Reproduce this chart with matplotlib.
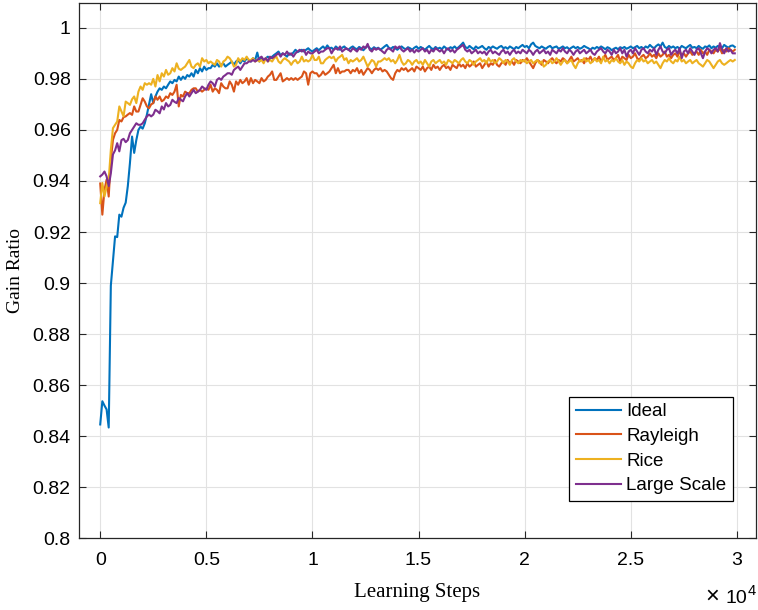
import matplotlib
matplotlib.use("Agg")
import matplotlib.pyplot as plt
import numpy as np
from matplotlib.ticker import FixedLocator, FuncFormatter

plt.rcParams["font.family"] = ["Liberation Sans", "DejaVu Sans"]

# learning step at which each gain ratio was logged
steps = np.arange(0, 30000, 100)

ideal = [
    .8446, .8537, .8520, .8505, .8434, .8990, .9085, .9183, .9180, .9268,
    .9260, .9295, .9315, .9380, .9470, .9574, .9510, .9560, .9600, .9613,
    .9605, .9626, .9660, .9700, .9740, .9705, .9731, .9750, .9763, .9757,
    .9770, .9763, .9777, .9790, .9783, .9796, .9790, .9809, .9796, .9809,
    .9800, .9815, .9809, .9822, .9809, .9835, .9822, .9842, .9829, .9848,
    .9835, .9842, .9842, .9855, .9848, .9861, .9848, .9855, .9861, .9848,
    .9855, .9861, .9868, .9855, .9868, .9874, .9861, .9874, .9868, .9880,
    .9874, .9868, .9881, .9874, .9903, .9868, .9881, .9870, .9881, .9887,
    .9878, .9887, .9894, .9900, .9907, .9892, .9900, .9894, .9887, .9900,
    .9894, .9903, .9914, .9905, .9909, .9914, .9907, .9914, .9920, .9912,
    .9907, .9914, .9920, .9912, .9920, .9927, .9918, .9931, .9920, .9922,
    .9914, .9927, .9920, .9914, .9922, .9927, .9918, .9914, .9922, .9927,
    .9920, .9916, .9925, .9920, .9912, .9922, .9929, .9920, .9916, .9924,
    .9918, .9922, .9914, .9920, .9927, .9933, .9922, .9918, .9925, .9920,
    .9914, .9922, .9927, .9920, .9916, .9924, .9920, .9914, .9922, .9927,
    .9918, .9925, .9920, .9914, .9922, .9929, .9920, .9916, .9925, .9918,
    .9922, .9916, .9927, .9920, .9914, .9924, .9920, .9927, .9918, .9925,
    .9933, .9942, .9925, .9920, .9929, .9922, .9916, .9927, .9920, .9924,
    .9929, .9920, .9914, .9925, .9920, .9927, .9922, .9918, .9925, .9929,
    .9920, .9924, .9918, .9927, .9922, .9916, .9925, .9920, .9927, .9933,
    .9925, .9929, .9920, .9935, .9942, .9929, .9924, .9920, .9927, .9922,
    .9918, .9925, .9929, .9920, .9924, .9927, .9918, .9922, .9927, .9920,
    .9924, .9916, .9922, .9927, .9920, .9925, .9918, .9922, .9929, .9924,
    .9920, .9914, .9922, .9918, .9925, .9920, .9927, .9922, .9916, .9924,
    .9920, .9912, .9918, .9922, .9916, .9924, .9920, .9925, .9918, .9922,
    .9927, .9920, .9924, .9929, .9920, .9925, .9918, .9927, .9922, .9933,
    .9925, .9920, .9929, .9935, .9927, .9942, .9925, .9920, .9929, .9922,
    .9927, .9920, .9925, .9918, .9929, .9924, .9920, .9927, .9933, .9922,
    .9925, .9920, .9929, .9922, .9918, .9927, .9924, .9931, .9920, .9927,
    .9922, .9929, .9925, .9920, .9933, .9927, .9922, .9929, .9931, .9925,
]

rayleigh = [
    .9390, .9268, .9365, .9405, .9339, .9483, .9561, .9587, .9600, .9639,
    .9633, .9650, .9653, .9660, .9666, .9659, .9692, .9672, .9672, .9698,
    .9724, .9711, .9692, .9685, .9700, .9705, .9731, .9718, .9731, .9712,
    .9718, .9731, .9725, .9744, .9737, .9750, .9777, .9692, .9737, .9731,
    .9750, .9744, .9744, .9757, .9763, .9763, .9750, .9757, .9750, .9757,
    .9763, .9757, .9777, .9750, .9763, .9757, .9744, .9783, .9770, .9763,
    .9763, .9790, .9777, .9750, .9790, .9777, .9796, .9783, .9790, .9803,
    .9777, .9803, .9783, .9796, .9790, .9783, .9803, .9790, .9796, .9809,
    .9816, .9829, .9796, .9796, .9809, .9822, .9790, .9796, .9803, .9796,
    .9803, .9796, .9803, .9796, .9803, .9809, .9829, .9822, .9777, .9822,
    .9829, .9822, .9822, .9809, .9816, .9829, .9816, .9822, .9829, .9842,
    .9855, .9822, .9842, .9822, .9829, .9829, .9835, .9835, .9822, .9835,
    .9829, .9842, .9822, .9835, .9816, .9829, .9842, .9835, .9822, .9835,
    .9842, .9835, .9842, .9829, .9835, .9829, .9816, .9803, .9796, .9822,
    .9835, .9829, .9842, .9835, .9842, .9829, .9835, .9842, .9829, .9848,
    .9842, .9835, .9848, .9829, .9842, .9848, .9835, .9855, .9842, .9848,
    .9835, .9848, .9855, .9842, .9848, .9835, .9855, .9848, .9842, .9861,
    .9848, .9855, .9842, .9861, .9848, .9855, .9868, .9848, .9855, .9861,
    .9842, .9855, .9868, .9848, .9861, .9855, .9874, .9855, .9848, .9861,
    .9868, .9855, .9874, .9861, .9868, .9855, .9874, .9868, .9861, .9874,
    .9868, .9881, .9868, .9855, .9842, .9861, .9874, .9868, .9855, .9874,
    .9868, .9861, .9874, .9881, .9868, .9861, .9874, .9868, .9881, .9874,
    .9861, .9874, .9887, .9868, .9874, .9881, .9868, .9874, .9861, .9881,
    .9874, .9887, .9868, .9881, .9874, .9887, .9868, .9881, .9894, .9874,
    .9881, .9887, .9874, .9881, .9894, .9868, .9887, .9881, .9874, .9894,
    .9881, .9887, .9900, .9881, .9874, .9887, .9894, .9881, .9887, .9900,
    .9887, .9894, .9881, .9900, .9887, .9894, .9907, .9887, .9894, .9881,
    .9894, .9900, .9887, .9907, .9894, .9900, .9887, .9900, .9907, .9894,
    .9900, .9907, .9894, .9914, .9900, .9907, .9894, .9914, .9907, .9900,
    .9914, .9907, .9920, .9900, .9914, .9907, .9920, .9914, .9907, .9914,
]

rice = [
    .9313, .9392, .9339, .9378, .9405, .9522, .9607, .9620, .9633, .9692,
    .9672, .9653, .9711, .9705, .9698, .9720, .9731, .9705, .9750, .9770,
    .9757, .9783, .9777, .9783, .9777, .9800, .9770, .9815, .9790, .9822,
    .9809, .9835, .9816, .9822, .9842, .9829, .9861, .9840, .9835, .9842,
    .9848, .9861, .9874, .9848, .9842, .9855, .9861, .9848, .9881, .9868,
    .9874, .9861, .9868, .9861, .9855, .9874, .9868, .9848, .9868, .9874,
    .9887, .9881, .9868, .9848, .9855, .9881, .9868, .9881, .9874, .9887,
    .9874, .9874, .9881, .9868, .9874, .9868, .9874, .9861, .9881, .9868,
    .9874, .9868, .9881, .9887, .9868, .9861, .9874, .9881, .9874, .9868,
    .9855, .9868, .9874, .9861, .9868, .9887, .9868, .9874, .9868, .9874,
    .9894, .9874, .9874, .9887, .9861, .9861, .9874, .9881, .9887, .9881,
    .9887, .9868, .9881, .9887, .9894, .9874, .9881, .9861, .9874, .9868,
    .9874, .9881, .9868, .9874, .9887, .9868, .9848, .9861, .9874, .9868,
    .9848, .9868, .9868, .9874, .9881, .9874, .9881, .9868, .9874, .9861,
    .9874, .9894, .9868, .9855, .9861, .9874, .9868, .9855, .9868, .9874,
    .9861, .9868, .9855, .9874, .9861, .9848, .9868, .9874, .9861, .9868,
    .9874, .9861, .9868, .9855, .9874, .9868, .9861, .9874, .9868, .9861,
    .9874, .9881, .9868, .9861, .9874, .9868, .9855, .9868, .9874, .9881,
    .9868, .9874, .9861, .9881, .9868, .9874, .9861, .9868, .9881, .9874,
    .9861, .9874, .9868, .9855, .9874, .9881, .9868, .9861, .9874, .9868,
    .9874, .9861, .9868, .9874, .9861, .9868, .9874, .9861, .9868, .9848,
    .9855, .9868, .9874, .9861, .9868, .9881, .9868, .9855, .9868, .9874,
    .9861, .9868, .9874, .9855, .9842, .9861, .9874, .9868, .9881, .9868,
    .9874, .9861, .9868, .9881, .9868, .9874, .9861, .9887, .9868, .9874,
    .9861, .9874, .9868, .9881, .9868, .9861, .9874, .9855, .9868, .9861,
    .9848, .9842, .9861, .9874, .9868, .9881, .9868, .9874, .9861, .9868,
    .9874, .9861, .9868, .9855, .9842, .9861, .9874, .9868, .9881, .9868,
    .9861, .9874, .9868, .9887, .9868, .9874, .9861, .9868, .9874, .9861,
    .9868, .9874, .9861, .9855, .9848, .9861, .9874, .9868, .9855, .9842,
    .9855, .9868, .9874, .9861, .9855, .9861, .9868, .9874, .9868, .9874,
]

large_scale = [
    .9418, .9425, .9437, .9418, .9380, .9430, .9504, .9520, .9548, .9516,
    .9560, .9565, .9552, .9560, .9587, .9600, .9613, .9626, .9620, .9620,
    .9626, .9640, .9653, .9660, .9653, .9660, .9679, .9673, .9665, .9692,
    .9680, .9705, .9692, .9698, .9718, .9710, .9705, .9725, .9718, .9712,
    .9731, .9744, .9731, .9744, .9757, .9744, .9750, .9757, .9770, .9763,
    .9757, .9777, .9790, .9783, .9770, .9796, .9803, .9796, .9809, .9815,
    .9822, .9822, .9816, .9835, .9842, .9848, .9835, .9848, .9861, .9861,
    .9868, .9868, .9874, .9868, .9874, .9881, .9887, .9874, .9881, .9868,
    .9887, .9881, .9887, .9894, .9900, .9887, .9900, .9894, .9907, .9894,
    .9900, .9887, .9900, .9907, .9914, .9907, .9914, .9894, .9907, .9900,
    .9900, .9907, .9914, .9900, .9907, .9907, .9914, .9920, .9920, .9900,
    .9914, .9920, .9914, .9927, .9907, .9914, .9920, .9914, .9907, .9920,
    .9914, .9907, .9920, .9914, .9927, .9920, .9937, .9914, .9907, .9920,
    .9914, .9920, .9914, .9907, .9900, .9914, .9920, .9914, .9907, .9927,
    .9920, .9927, .9914, .9907, .9914, .9920, .9907, .9914, .9903, .9914,
    .9907, .9914, .9920, .9907, .9914, .9900, .9914, .9907, .9920, .9914,
    .9907, .9914, .9900, .9914, .9920, .9907, .9914, .9903, .9914, .9920,
    .9927, .9933, .9914, .9907, .9914, .9900, .9907, .9914, .9900, .9907,
    .9900, .9907, .9894, .9907, .9914, .9900, .9907, .9900, .9894, .9907,
    .9914, .9900, .9907, .9894, .9907, .9914, .9900, .9907, .9900, .9914,
    .9907, .9900, .9914, .9907, .9894, .9907, .9914, .9900, .9907, .9914,
    .9900, .9907, .9894, .9914, .9907, .9900, .9914, .9907, .9920, .9907,
    .9900, .9914, .9907, .9894, .9907, .9914, .9900, .9907, .9914, .9900,
    .9907, .9914, .9900, .9894, .9907, .9914, .9920, .9907, .9900, .9914,
    .9907, .9894, .9914, .9900, .9907, .9920, .9900, .9914, .9887, .9907,
    .9914, .9900, .9920, .9907, .9894, .9914, .9920, .9907, .9900, .9914,
    .9907, .9920, .9894, .9914, .9927, .9907, .9900, .9914, .9920, .9894,
    .9907, .9914, .9900, .9920, .9881, .9907, .9914, .9900, .9920, .9907,
    .9894, .9914, .9920, .9900, .9881, .9907, .9920, .9914, .9900, .9914,
    .9920, .9907, .9940, .9914, .9900, .9920, .9907, .9914, .9900, .9900,
]

series = [
    ("Ideal", ideal, "#0072BD"),
    ("Rayleigh", rayleigh, "#D95319"),
    ("Rice", rice, "#EDB120"),
    ("Large Scale", large_scale, "#7E2F8E"),
]

x_ticks = [0, 5000, 10000, 15000, 20000, 25000, 30000]
y_ticks = [0.8, 0.82, 0.84, 0.86, 0.88, 0.9, 0.92, 0.94, 0.96, 0.98, 1.0]

axis_col = "#262626"

fig = plt.figure(figsize=(7.58, 6.10), dpi=100)
ax = fig.add_axes([79 / 758, 71.7 / 610, 677 / 758, 535.5 / 610])

for name, vals, col in series:
    ax.plot(steps, vals, color=col, lw=1.5, label=name)

ax.set_xlim(-1000, 30900)
ax.set_ylim(0.8, 1.0098)
ax.xaxis.set_major_locator(FixedLocator(x_ticks))
ax.yaxis.set_major_locator(FixedLocator(y_ticks))
ax.xaxis.set_major_formatter(FuncFormatter(lambda v, _: f"{v / 1e4:g}"))
ax.yaxis.set_major_formatter(FuncFormatter(lambda v, _: f"{v:g}"))

ax.grid(True, color="#e2e2e2", lw=0.8)
ax.set_axisbelow(True)
ax.tick_params(direction="in", length=5, width=0.8, color=axis_col,
               labelsize=14, labelcolor="black", top=True, right=True)
ax.tick_params(axis="x", pad=10)
ax.tick_params(axis="y", pad=6)
for sp in ax.spines.values():
    sp.set_color(axis_col)
    sp.set_linewidth(0.9)

ax.set_xlabel("Learning Steps", family="Liberation Serif", fontsize=15)
ax.xaxis.set_label_coords(0.5, -0.083)
ax.set_ylabel("Gain Ratio", family="Liberation Serif", fontsize=14)
ax.yaxis.set_label_coords(-0.081, 0.5)

# MATLAB-style exponent under the right end of the x axis
fig.text(719 / 758, 7 / 610, "×", fontsize=17, ha="right", va="baseline")
fig.text(747 / 758, 7 / 610, "10", fontsize=14, ha="right", va="baseline")
fig.text(747.5 / 758, 15 / 610, "4", fontsize=10.5, ha="left", va="baseline")

leg = ax.legend(loc="upper right", bbox_to_anchor=(0.966, 0.264),
                borderaxespad=0, fontsize=13.5, fancybox=False, framealpha=1,
                edgecolor="black", handlelength=2.4, handletextpad=0.3,
                borderpad=0.34, labelspacing=0.4)
leg.get_frame().set_linewidth(0.9)

fig.savefig("out.png", dpi=100)
